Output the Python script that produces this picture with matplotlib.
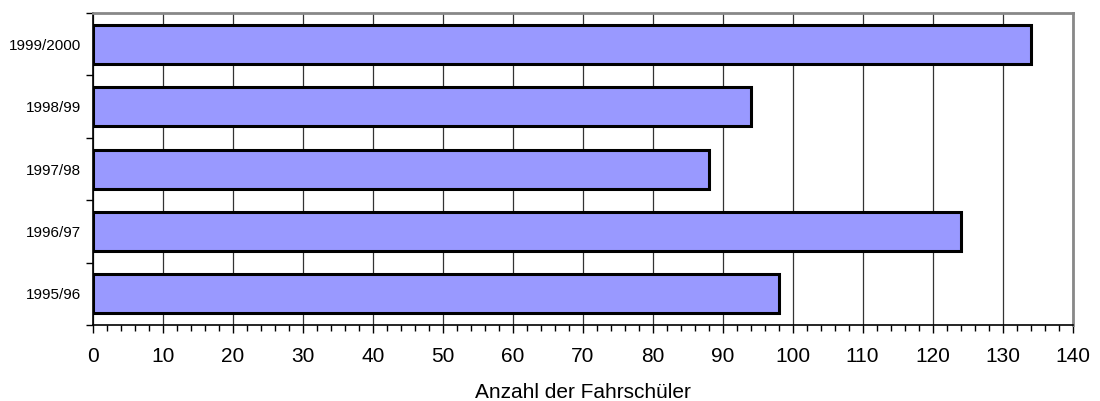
import matplotlib
matplotlib.use("Agg")
import matplotlib.pyplot as plt
from matplotlib.ticker import MultipleLocator, FixedLocator, NullFormatter

plt.rcParams['font.family'] = ['Liberation Sans', 'DejaVu Sans']

categories = ["1995/96", "1996/97", "1997/98", "1998/99", "1999/2000"]
values = [98, 124, 88, 94, 134]
xticks = list(range(0, 141, 10))
xlabel = "Anzahl der Fahrschüler"

fig = plt.figure(figsize=(11, 4.01), dpi=100)
ax = fig.add_axes([93/1100, 1 - 325/401, (1072.5 - 93)/1100, (325 - 13)/401])

ypos = list(range(len(categories)))
ax.barh(ypos, values, height=0.625, color="#9999FF", edgecolor="black",
        linewidth=2.2, zorder=3)

ax.set_xlim(0, 140)
ax.set_ylim(-0.5, len(categories) - 0.5)
ax.set_xticks(xticks)
ax.set_xticklabels([str(t) for t in xticks], fontsize=15)
ax.xaxis.set_minor_locator(MultipleLocator(2))
ax.grid(axis="x", which="major", color="#333333", linewidth=0.9, zorder=0)

ax.set_yticks(ypos)
ax.set_yticklabels(categories, fontsize=11)
ax.tick_params(axis="y", which="major", length=0, pad=8.5)
ax.yaxis.set_minor_locator(FixedLocator([i - 0.5 for i in range(len(categories) + 1)]))
ax.yaxis.set_minor_formatter(NullFormatter())
ax.tick_params(axis="y", which="minor", length=5, width=1, color="black", direction="out")

ax.tick_params(axis="x", which="major", length=6, width=1, color="black", direction="out", pad=10)
ax.tick_params(axis="x", which="minor", length=4, width=1, color="black", direction="out")

ax.set_xlabel(xlabel, fontsize=15, labelpad=12)

for s in ["left", "bottom"]:
    ax.spines[s].set_color("black")
    ax.spines[s].set_linewidth(1.2)
for s in ["top", "right"]:
    ax.spines[s].set_color("#888888")
    ax.spines[s].set_linewidth(2)

fig.savefig("out.png", dpi=100)
